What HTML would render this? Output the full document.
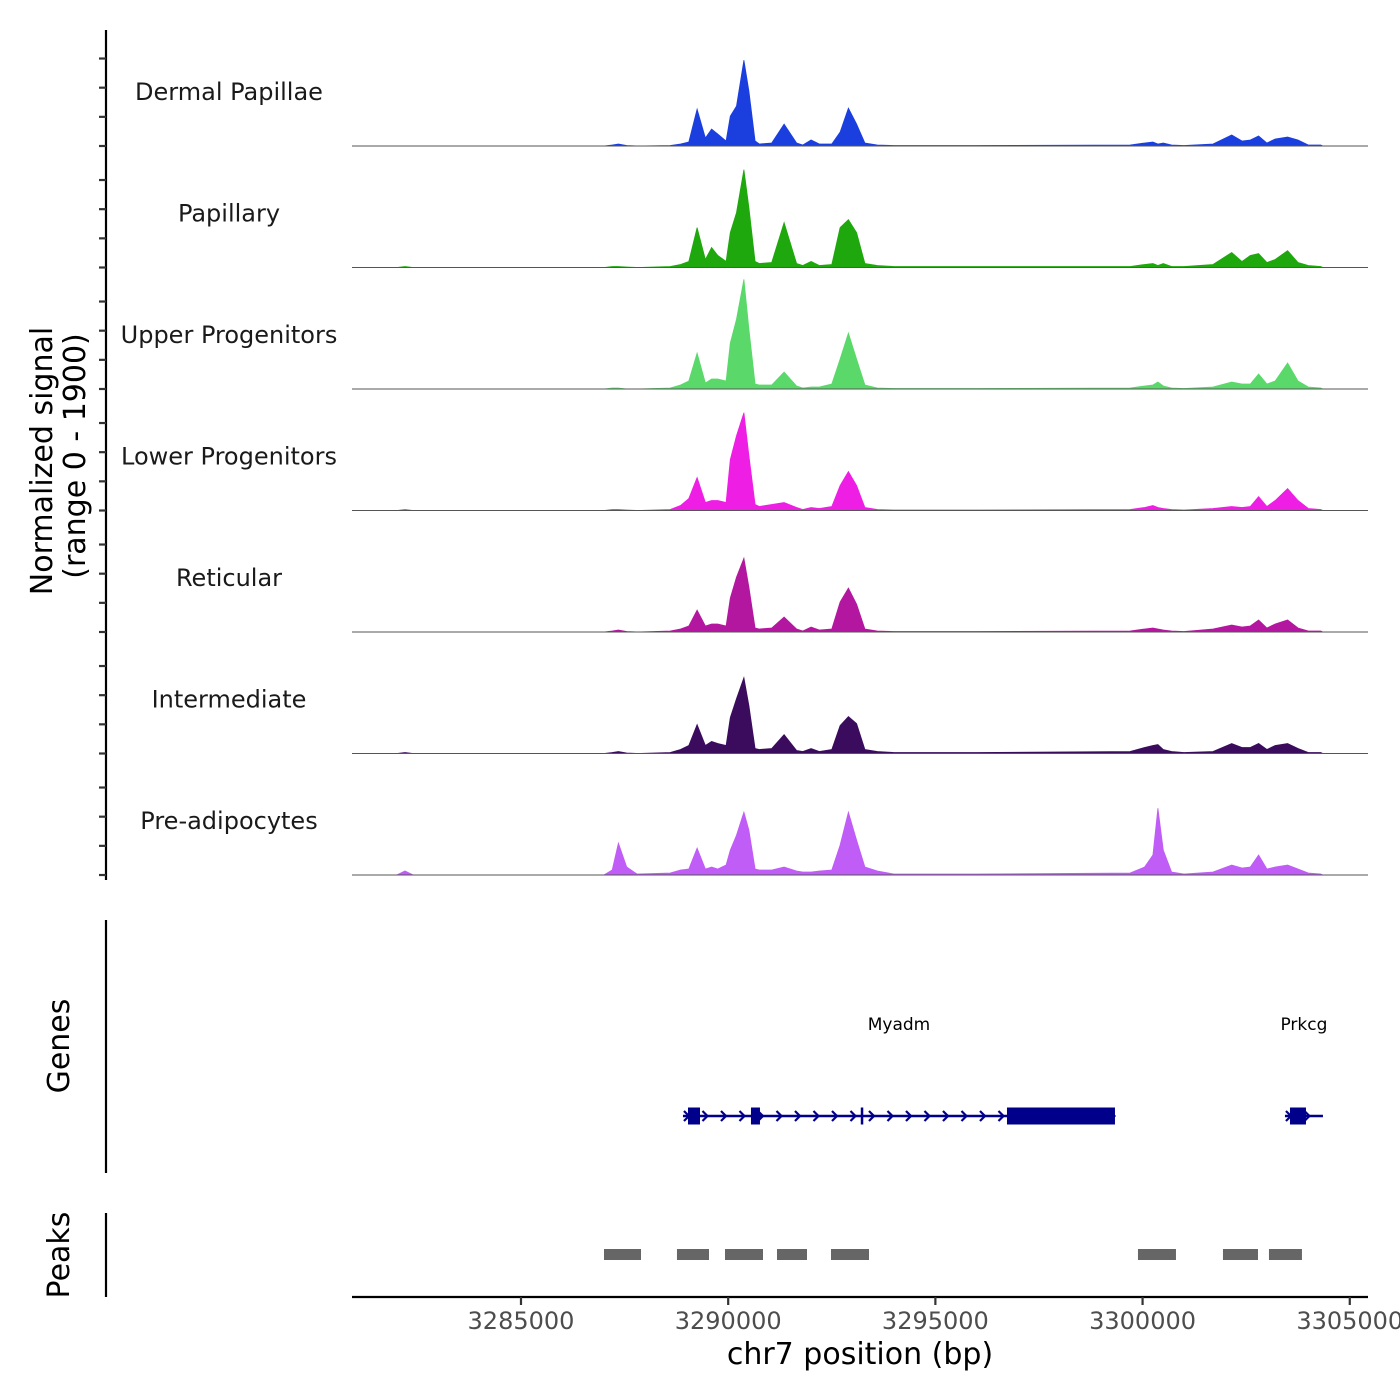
<!DOCTYPE html>
<html><head><meta charset="utf-8"><title>Coverage plot</title>
<style>
html,body{margin:0;padding:0;background:#fff;}
svg{display:block;font-family:"DejaVu Sans","Liberation Sans",sans-serif;}
</style></head>
<body>
<svg id="chart" width="1400" height="1400" viewBox="0 0 1400 1400" xmlns="http://www.w3.org/2000/svg">
  <rect x="0" y="0" width="1400" height="1400" fill="#fff"/>
  <g id="tracks"></g>
  <line x1="106" y1="30" x2="106" y2="880" stroke="#000" stroke-width="2.2"/>
  <g id="yticks"></g>
  <text transform="translate(52,461) rotate(-90)" text-anchor="middle" font-size="30" fill="#000">Normalized signal</text>
  <text transform="translate(85,456) rotate(-90)" text-anchor="middle" font-size="30" fill="#000">(range 0 - 1900)</text>
  <line x1="106" y1="920" x2="106" y2="1173" stroke="#000" stroke-width="2.2"/>
  <text transform="translate(69,1046) rotate(-90)" text-anchor="middle" font-size="30" fill="#000">Genes</text>
  <g id="genes"></g>
  <line x1="106" y1="1213" x2="106" y2="1297" stroke="#000" stroke-width="2.2"/>
  <text transform="translate(69,1255) rotate(-90)" text-anchor="middle" font-size="30" fill="#000">Peaks</text>
  <g id="peaks"></g>
  <line x1="352" y1="1297" x2="1368" y2="1297" stroke="#000" stroke-width="2.2"/>
  <g id="xticks"></g>
  <text x="860" y="1364" text-anchor="middle" font-size="30" fill="#000">chr7 position (bp)</text>
</svg>
<script>
const trackNames = ["Dermal Papillae","Papillary","Upper Progenitors","Lower Progenitors","Reticular","Intermediate","Pre-adipocytes"];
const trackColors = ["#1b3fdf","#1fa80d","#5ad96a","#ee1ee4","#b4179f","#3b0c5e","#c05df6"];
const positions = [3280922,3282000,3282200,3282400,3287000,3287200,3287350,3287550,3287800,3288600,3288850,3289050,3289250,3289450,3289600,3289750,3289950,3290050,3290200,3290380,3290500,3290650,3290750,3291050,3291350,3291650,3291800,3292000,3292200,3292500,3292700,3292900,3293100,3293300,3293600,3294000,3296000,3299700,3300050,3300250,3300370,3300500,3300700,3301000,3301700,3302150,3302400,3302600,3302800,3303000,3303200,3303500,3303750,3304000,3304300,3304350];
const sigDermal = [0,0,0,0,0,16,31,8,0,8,31,62,577,125,265,187,78,468,624,1342,858,78,31,47,343,47,16,94,31,31,218,593,343,47,16,8,8,16,47,62,31,47,16,8,31,172,78,94,156,47,109,140,94,16,16,0];
const sigPapillary = [0,0,16,0,0,16,16,8,0,16,47,94,624,125,312,187,94,546,858,1529,936,94,62,78,702,62,31,94,31,47,624,749,546,62,31,16,16,16,47,62,31,62,16,16,47,234,94,187,218,78,125,265,78,31,16,0];
const sigUpper = [0,0,0,0,0,16,16,0,0,16,62,125,562,94,156,156,125,718,1092,1716,936,78,62,62,265,47,16,31,31,78,468,874,468,62,16,8,8,16,47,62,109,47,16,8,31,109,78,78,234,78,125,406,125,31,16,0];
const sigLower = [0,0,16,0,0,16,16,8,0,16,78,187,515,125,156,156,125,796,1170,1529,858,94,62,94,125,47,16,47,31,62,390,608,390,47,16,8,8,16,47,78,47,31,16,8,31,62,47,62,218,62,156,343,156,31,16,0];
const sigReticular = [0,0,0,0,0,16,31,8,0,16,47,94,343,94,125,125,94,530,858,1154,702,62,47,62,234,47,16,78,31,47,468,686,437,47,16,8,8,16,47,62,47,31,16,8,47,109,78,94,187,62,125,187,62,16,16,0];
const sigIntermediate = [0,0,16,0,0,16,31,8,0,16,62,125,452,125,187,156,125,562,858,1186,749,78,62,78,296,47,31,78,31,62,437,577,468,62,31,16,16,31,94,125,140,62,31,16,31,156,94,94,156,62,125,156,78,16,16,0];
const sigPreadipo = [0,0,62,0,0,78,499,125,16,31,78,94,421,94,125,94,156,390,624,983,702,94,78,78,125,62,47,47,62,78,468,983,546,125,62,16,16,31,125,312,1045,390,47,16,47,156,109,125,312,94,125,156,94,31,16,0];
const signals = [sigDermal,sigPapillary,sigUpper,sigLower,sigReticular,sigIntermediate,sigPreadipo];
const xTicks = [3285000,3290000,3295000,3300000,3305000];
const peakStarts = [3287003,3288764,3289923,3291178,3292481,3299889,3301940,3303050];
const peakEnds = [3287896,3289537,3290840,3291902,3293398,3300806,3302785,3303846];
const geneNames = ["Myadm","Prkcg"];
const geneStarts = [3288909,3303436];
const geneEnds = [3299334,3304353];
const exonStarts = [3289030,3290550,3293200,3296728,3303557];
const exonEnds = [3289320,3290767,3293260,3299334,3303943];

const NS="http://www.w3.org/2000/svg";
const SIGNAL_MAX=1900, TRACK_H=121.5, BASE0=146;
const X0=352, X1=1368, BP0=3280922, BP1=3305440;
function xScale(bp){return X0+(bp-BP0)/(BP1-BP0)*(X1-X0);}
function yScale(v,t){return BASE0+t*TRACK_H - v/SIGNAL_MAX*TRACK_H;}
function mk(tag,attrs,parent){const e=document.createElementNS(NS,tag);for(const k in attrs)e.setAttribute(k,attrs[k]);parent.appendChild(e);return e;}

const tracks=document.getElementById('tracks');
const yt=document.getElementById('yticks');
signals.forEach((sig,t)=>{
  const base=yScale(0,t);
  let d="M"+xScale(positions[0]).toFixed(1)+","+base.toFixed(1);
  sig.forEach((v,i)=>{d+=" L"+xScale(positions[i]).toFixed(1)+","+yScale(v,t).toFixed(1);});
  d+=" L"+xScale(positions[positions.length-1]).toFixed(1)+","+base.toFixed(1)+" Z";
  const p=mk('path',{d:d,fill:trackColors[t],stroke:trackColors[t],'stroke-width':0.8},tracks);
  
  
  const bl=mk('line',{x1:X0,y1:base,x2:X1,y2:base,stroke:'#555','stroke-width':1},tracks);
  
  
  const lb=mk('text',{x:229,y:base-46,'text-anchor':'middle','font-size':24,fill:'#1a1a1a'},tracks);
  lb.textContent=trackNames[t];
  
  
  [0,0.24,0.48,0.72].forEach(f=>{
    const y=base-f*TRACK_H;
    const tk=mk('line',{x1:99,y1:y,x2:106,y2:y,stroke:'#333','stroke-width':2.2},yt);
    
    
  });
});

const xt=document.getElementById('xticks');
xTicks.forEach(v=>{
  const x=xScale(v);
  const l=mk('line',{x1:x,y1:1297,x2:x,y2:1305,stroke:'#333','stroke-width':2.2},xt);
  
  
  const tx=mk('text',{x:x,y:1329,'text-anchor':'middle','font-size':24,fill:'#4d4d4d'},xt);
  tx.textContent=String(v);
  
  
});

const pk=document.getElementById('peaks');
peakStarts.forEach((s,i)=>{
  const r=mk('rect',{x:xScale(s),y:1249,width:xScale(peakEnds[i])-xScale(s),height:11,fill:'#666'},pk);
  
  
});

const gn=document.getElementById('genes');
const GY=1116, GC='#00008b';
geneStarts.forEach((s,i)=>{
  const xs=xScale(s), xe=xScale(geneEnds[i]);
  const l=mk('line',{x1:xs,y1:GY,x2:xe,y2:GY,stroke:GC,'stroke-width':2.5},gn);
  
  
  for(let x=xs+4;x<xe-2;x+=18.5){
    const c=mk('path',{d:`M${x-3},${GY-5} L${x+2},${GY} L${x-3},${GY+5}`,fill:'none',stroke:GC,'stroke-width':2.2},gn);
    
    
  }
  const t=mk('text',{x:(xs+xe)/2,y:1030,'text-anchor':'middle','font-size':17,fill:'#000'},gn);
  t.textContent=geneNames[i];
  
  
});
exonStarts.forEach((s,i)=>{
  const w=Math.max(2,xScale(exonEnds[i])-xScale(s));
  const r=mk('rect',{x:xScale(s),y:GY-8.5,width:w,height:17,fill:GC},gn);
  
  
});
</script>
</body></html>
